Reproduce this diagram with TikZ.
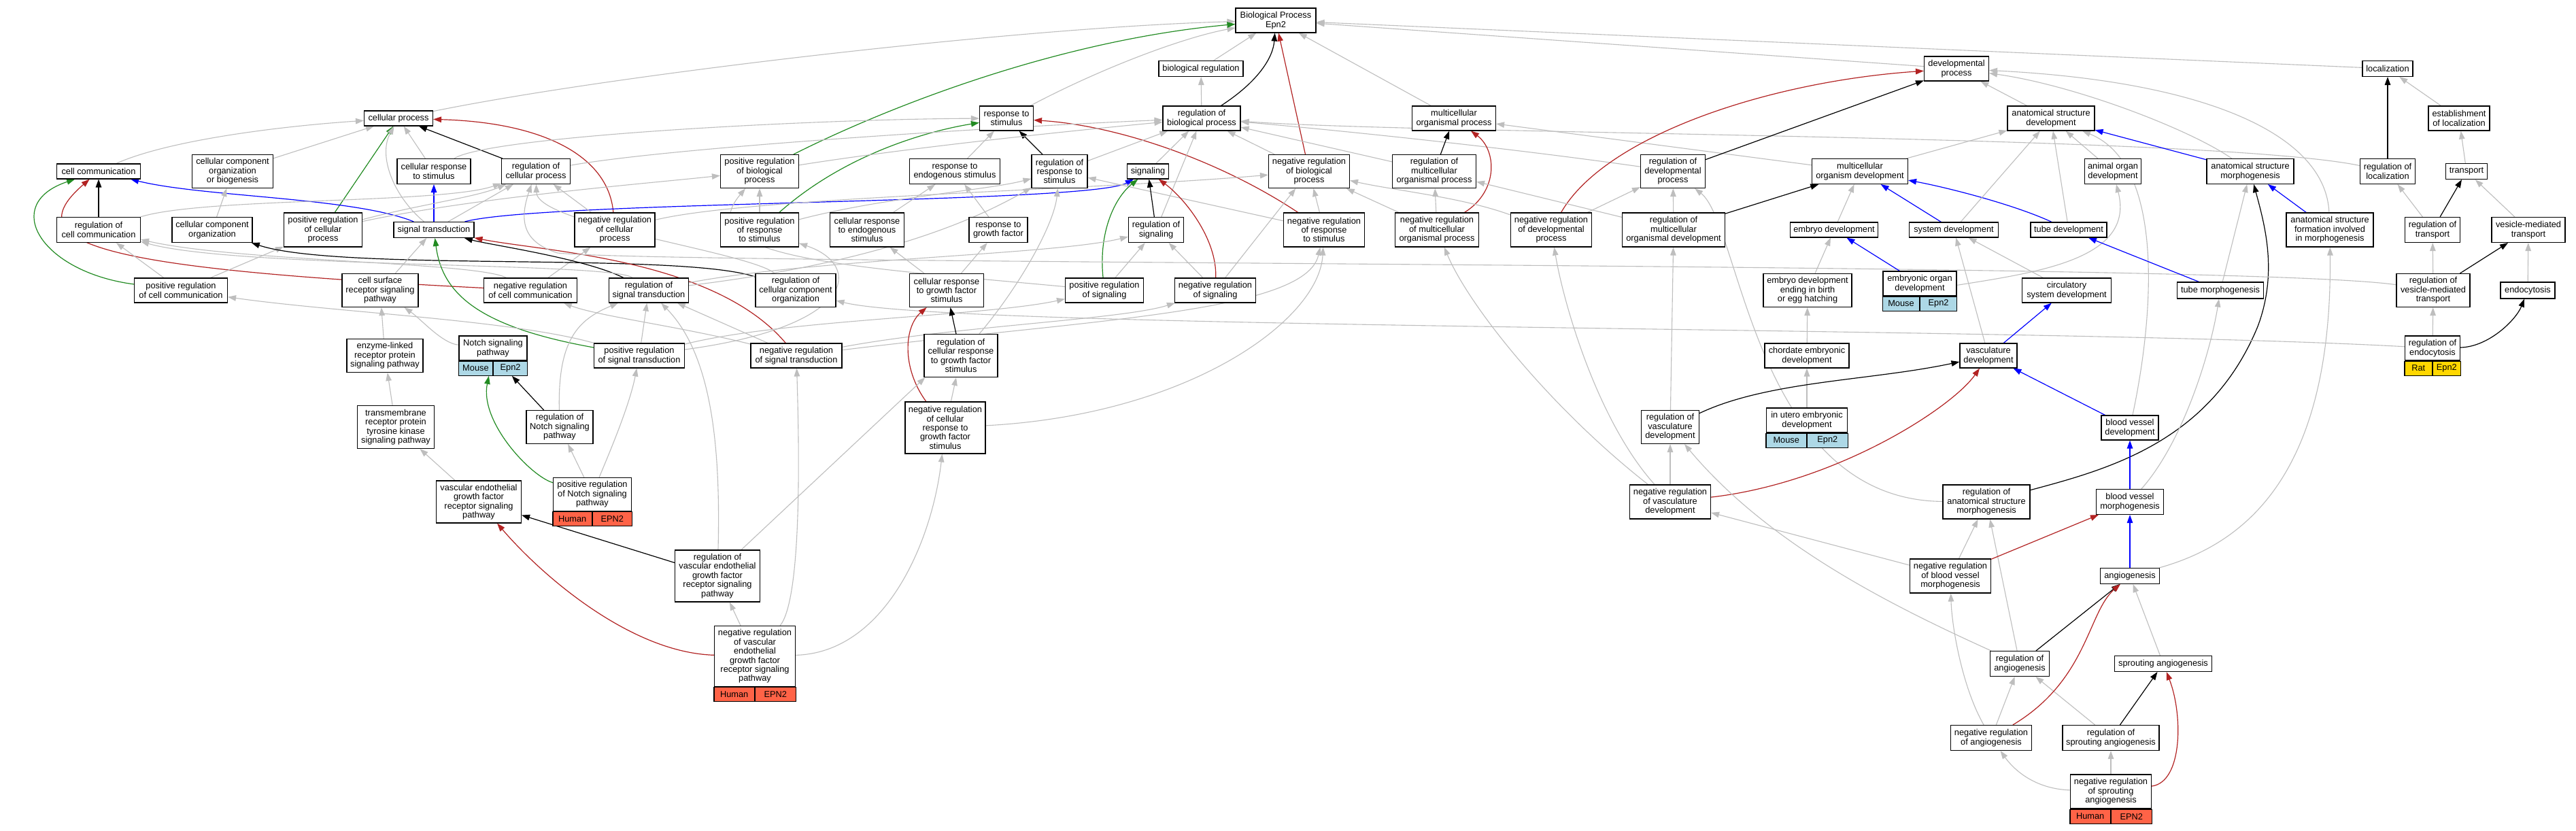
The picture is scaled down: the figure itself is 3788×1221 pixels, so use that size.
\documentclass[tikz,border=0pt]{standalone}
\usepackage{fontspec}
\setmainfont{Liberation Sans}
\usetikzlibrary{arrows.meta,fit}
\definecolor{egray}{RGB}{190,190,190}
\definecolor{egreen}{RGB}{34,139,34}
\definecolor{ered}{RGB}{178,34,34}
\definecolor{eblue}{RGB}{0,0,255}
\definecolor{spblue}{RGB}{173,216,230}
\definecolor{sptomato}{RGB}{255,99,71}
\definecolor{spgold}{RGB}{255,215,0}
\newcommand{\gofont}{\fontsize{12.8}{13.4}\selectfont}
\pgfdeclarelayer{bg}
\pgfsetlayers{bg,main}
\tikzset{
  gobx/.style={draw=black, line width=1.1pt, fill=white, align=center, inner sep=1pt, font=\gofont},
  spc/.style={draw=black, line width=1.1pt, minimum height=21, inner sep=1pt, font=\gofont},
  tipx/.style={-{Triangle[length=12pt,width=8.5pt]}},
  eis/.style={tipx, draw=egray, line width=1.1pt},
  ereg/.style={tipx, draw=black, line width=1.2pt},
  epart/.style={tipx, draw=eblue, line width=1.2pt},
  epos/.style={tipx, draw=egreen, line width=1.2pt},
  eneg/.style={tipx, draw=ered, line width=1.2pt},
}
\newcommand{\gobox}[6]{\node[gobx,minimum width=#4,minimum height=#5] (#1) at (#2,#3) {#6};}
\newcommand{\gorec}[9]{%
  \node[gobx,minimum width=#4,minimum height=#5] (#1T) at (#2,#3) {#6};
  \node[spc,fill=#9,minimum width=#4/2,anchor=north east] (#1A) at (#1T.south) {#7};
  \node[spc,fill=#9,minimum width=#4/2,anchor=north west] (#1B) at (#1T.south) {#8};
  \node[fit=(#1T)(#1A)(#1B),inner sep=0pt] (#1) {};}
\begin{document}
\begin{tikzpicture}[x=1pt,y=-1pt]
\useasboundingbox (0,0) rectangle (3788,1221);
% ---------- nodes ----------
\gobox{bp}{1876}{30}{118}{36}{Biological Process\\Epn2}
\gobox{bioreg}{1766}{101}{124}{23}{biological regulation}
\gobox{loc}{3511}{101}{74}{23}{localization}
\gobox{devp}{2877}{101}{95}{36}{developmental\\process}
\gobox{cp}{586}{174}{101}{22}{cellular process}
\gobox{rs}{1480}{174}{79}{36}{response to\\stimulus}
\gobox{rbp}{1767}{174}{114}{36}{regulation of\\biological process}
\gobox{mop}{2138}{174}{123}{36}{multicellular\\organismal process}
\gobox{asd}{3016}{174}{128}{36}{anatomical structure\\development}
\gobox{eol}{3616}{174}{90}{36}{establishment\\of localization}
\gobox{cc}{145}{252}{123}{22}{cell communication}
\gobox{ccob}{342}{252}{119}{49}{cellular component\\organization\\or biogenesis}
\gobox{crs}{638}{252}{108}{37}{cellular response\\to stimulus}
\gobox{rcp}{788}{252}{101}{37}{regulation of\\cellular process}
\gobox{prbp}{1117}{252}{115}{49}{positive regulation\\of biological\\process}
\gobox{res}{1404}{252}{133}{37}{response to\\endogenous stimulus}
\gobox{rrs}{1558}{252}{82}{49}{regulation of\\response to\\stimulus}
\gobox{sig}{1688}{252}{61}{22}{signaling}
\gobox{nrbp}{1925}{252}{119}{49}{negative regulation\\of biological\\process}
\gobox{rmop}{2109}{252}{123}{49}{regulation of\\multicellular\\organismal process}
\gobox{rdp}{2460}{252}{95}{49}{regulation of\\developmental\\process}
\gobox{mod}{2735}{252}{141}{37}{multicellular\\organism development}
\gobox{aod}{3107}{252}{83}{37}{animal organ\\development}
\gobox{asm}{3309}{252}{128}{37}{anatomical structure\\morphogenesis}
\gobox{rl}{3511}{252}{81}{37}{regulation of\\localization}
\gobox{transport}{3627}{252}{61}{23}{transport}
\gobox{rcc}{145}{338}{123}{37}{regulation of\\cell communication}
\gobox{cco}{312}{338}{118}{37}{cellular component\\organization}
\gobox{prcp}{475}{338}{115}{50}{positive regulation\\of cellular\\process}
\gobox{st}{638}{338}{118}{23}{signal transduction}
\gobox{nrcp}{904}{338}{118}{50}{negative regulation\\of cellular\\process}
\gobox{prrs}{1117}{338}{115}{50}{positive regulation\\of response\\to stimulus}
\gobox{cres}{1275}{338}{109}{50}{cellular response\\to endogenous\\stimulus}
\gobox{rgf}{1468}{338}{86}{37}{response to\\growth factor}
\gobox{ros}{1700}{338}{81}{37}{regulation of\\signaling}
\gobox{nrrs}{1947}{338}{119}{50}{negative regulation\\of response\\to stimulus}
\gobox{nrmop}{2113}{338}{123}{50}{negative regulation\\of multicellular\\organismal process}
\gobox{nrdp}{2281}{338}{119}{50}{negative regulation\\of developmental\\process}
\gobox{rmod}{2461}{338}{151}{50}{regulation of\\multicellular\\organismal development}
\gobox{ed}{2697}{338}{129}{22}{embryo development}
\gobox{sd}{2873}{338}{131}{22}{system development}
\gobox{td}{3042}{338}{112}{22}{tube development}
\gobox{asfim}{3426}{338}{128}{50}{anatomical structure\\formation involved\\in morphogenesis}
\gobox{rt}{3577}{338}{81}{37}{regulation of\\transport}
\gobox{vmt}{3718}{338}{108}{37}{vesicle-mediated\\transport}
\gobox{prcc}{266}{427}{137}{36}{positive regulation\\of cell communication}
\gobox{csrsp}{559}{427}{112}{49}{cell surface\\receptor signaling\\pathway}
\gobox{nrcc}{780}{427}{137}{36}{negative regulation\\of cell communication}
\gobox{rst}{954}{427}{117}{36}{regulation of\\signal transduction}
\gobox{rcco}{1170}{427}{118}{49}{regulation of\\cellular component\\organization}
\gobox{crgfs}{1392}{427}{109}{49}{cellular response\\to growth factor\\stimulus}
\gobox{pros}{1624}{427}{115}{36}{positive regulation\\of signaling}
\gobox{nros}{1787}{427}{119}{36}{negative regulation\\of signaling}
\gobox{edebeh}{2658}{427}{130}{49}{embryo development\\ending in birth\\or egg hatching}
\gorec{eod}{2823}{417}{108}{36}{embryonic organ\\development}{Mouse}{Epn2}{spblue}
\gobox{csd}{3039}{427}{131}{36}{circulatory\\system development}
\gobox{tm}{3265}{427}{127}{24}{tube morphogenesis}
\gobox{rvmt}{3578}{427}{108}{49}{regulation of\\vesicle-mediated\\transport}
\gobox{endo}{3717}{427}{80}{24}{endocytosis}
\gobox{elrpsp}{566}{523}{112}{49}{enzyme-linked\\receptor protein\\signaling pathway}
\gorec{nsp}{725}{512}{100}{36}{Notch signaling\\pathway}{Mouse}{Epn2}{spblue}
\gobox{prst}{940}{523}{133}{36}{positive regulation\\of signal transduction}
\gobox{nrst}{1171}{523}{134}{36}{negative regulation\\of signal transduction}
\gobox{rcrgfs}{1413}{523}{108}{63}{regulation of\\cellular response\\to growth factor\\stimulus}
\gobox{ced}{2657}{523}{124}{36}{chordate embryonic\\development}
\gobox{vd}{2924}{523}{84}{36}{vasculature\\development}
\gorec{re}{3577}{512}{81}{36}{regulation of\\endocytosis}{Rat}{Epn2}{spgold}
\gobox{trptk}{582}{628}{113}{63}{transmembrane\\receptor protein\\tyrosine kinase\\signaling pathway}
\gobox{rnsp}{823}{628}{98}{49}{regulation of\\Notch signaling\\pathway}
\gobox{nrcrgfs}{1390}{629}{118}{76}{negative regulation\\of cellular\\response to\\growth factor\\stimulus}
\gorec{iued}{2657}{618}{119}{36}{in utero embryonic\\development}{Mouse}{Epn2}{spblue}
\gobox{rvd}{2456}{628}{85}{49}{regulation of\\vasculature\\development}
\gobox{bvd}{3132}{629}{84}{36}{blood vessel\\development}
\gobox{vegf}{704}{738}{125}{62}{vascular endothelial\\growth factor\\receptor signaling\\pathway}
\gorec{prnsp}{871}{727}{115}{49}{positive regulation\\of Notch signaling\\pathway}{Human}{EPN2}{sptomato}
\gobox{nrvd}{2456}{738}{119}{50}{negative regulation\\of vasculature\\development}
\gobox{rasm}{2921}{738}{128}{50}{regulation of\\anatomical structure\\morphogenesis}
\gobox{bvm}{3132}{738}{99}{37}{blood vessel\\morphogenesis}
\gobox{rvegf}{1055}{847}{125}{76}{regulation of\\vascular endothelial\\growth factor\\receptor signaling\\pathway}
\gobox{nrbvm}{2868}{847}{119}{50}{negative regulation\\of blood vessel\\morphogenesis}
\gobox{ang}{3132}{847}{87}{23}{angiogenesis}
\gorec{nrvegf}{1110}{965}{119}{89}{negative regulation\\of vascular\\endothelial\\growth factor\\receptor signaling\\pathway}{Human}{EPN2}{sptomato}
\gobox{ra}{2970}{976}{87}{37}{regulation of\\angiogenesis}
\gobox{sa}{3181}{976}{143}{23}{sprouting angiogenesis}
\gobox{nra}{2928}{1085}{119}{37}{negative regulation\\of angiogenesis}
\gobox{rsa}{3104}{1085}{142}{37}{regulation of\\sprouting angiogenesis}
\gorec{nrsa}{3104}{1164}{119}{50}{negative regulation\\of sprouting\\angiogenesis}{Human}{EPN2}{sptomato}
% ---------- edges ----------
\begin{pgfonlayer}{bg}
\fill[white] (0,0) rectangle (3788,1221);
% top
\draw[eis] (bioreg) -- (bp);
\draw[eis] (loc) -- (bp);
\draw[eis] (devp) -- (bp);
\draw[eis] (cp) .. controls (900,110) and (1500,40) .. (bp);
\draw[eis] (rs) .. controls (1620,100) and (1740,55) .. (bp);
\draw[ereg] (rbp) .. controls (1850,120) and (1872,85) .. (bp);
\draw[eis] (rbp) -- (bioreg);
\draw[eis] (mop) -- (bp);
\draw[epos] (prbp) .. controls (1300,160) and (1550,60) .. (bp);
\draw[eneg] (nrbp) -- (bp);
% cellular process
\draw[eis] (cc) .. controls (250,205) and (420,185) .. (cp);
\draw[eis] (ccob) -- (cp);
\draw[eis] (crs) -- (cp);
\draw[ereg] (rcp) -- (cp);
\draw[epos] (prcp) -- (cp);
\draw[eneg] (nrcp) .. controls (895,230) and (800,180) .. (cp);
\draw[eis] (st) .. controls (580,290) and (555,230) .. (cp);
% response to stimulus
\draw[eis] (crs) .. controls (720,200) and (1200,175) .. (rs);
\draw[eis] (res) -- (rs);
\draw[ereg] (rrs) -- (rs);
\draw[epos] (prrs) .. controls (1250,220) and (1380,190) .. (rs);
\draw[eneg] (nrrs) .. controls (1800,240) and (1650,185) .. (rs);
% regulation of biological process
\draw[eis] (rcp) .. controls (1000,215) and (1500,185) .. (rbp);
\draw[eis] (prbp) .. controls (1350,215) and (1600,190) .. (rbp);
\draw[eis] (rrs) -- (rbp);
\draw[eis] (nrbp) -- (rbp);
\draw[eis] (sig) -- (rbp);
\draw[eis] (ros) -- (rbp);
\draw[eis] (rmop) -- (rbp);
\draw[eis] (rdp) .. controls (2200,215) and (1950,190) .. (rbp);
\draw[eis] (rl) .. controls (3250,198) and (2100,198) .. (rbp);
% multicellular organismal process
\draw[ereg] (rmop) -- (mop);
\draw[eneg] (nrmop) .. controls (2205,280) and (2200,220) .. (mop);
\draw[eis] (mod) -- (mop);
% developmental process
\draw[ereg] (rdp) -- (devp);
\draw[eneg] (nrdp) .. controls (2360,200) and (2600,120) .. (devp);
\draw[eis] (asd) -- (devp);
\draw[eis] (asm) .. controls (3220,190) and (3050,125) .. (devp);
\draw[eis] (asfim) .. controls (3420,200) and (3250,120) .. (devp);
% localization
\draw[ereg] (rl) -- (loc);
\draw[eis] (eol) -- (loc);
\draw[eis] (transport) -- (eol);
\draw[eis] (rt) -- (rl);
\draw[ereg] (rt) -- (transport);
\draw[eis] (vmt) -- (transport);
\draw[eis] (rvmt) -- (rt);
\draw[ereg] (rvmt) -- (vmt);
\draw[eis] (endo) -- (vmt);
\draw[eis] (reT) -- (rvmt);
\draw[ereg] (reT) .. controls (3660,510) and (3700,470) .. (endo);
% cell communication area
\draw[ereg] (rcc) -- (cc);
\draw[epart] (st) .. controls (520,290) and (300,290) .. (cc);
\draw[epart] (st) -- (crs);
\draw[epart] (st) .. controls (800,295) and (1600,300) .. (sig);
\draw[eneg] (nrcc) .. controls (150,395) and (20,360) .. (cc);
\draw[epos] (prcc) .. controls (60,400) and (0,300) .. (cc);
\draw[eis] (cco) -- (ccob);
\draw[eis] (prcc) -- (prcp);
\draw[eis] (prcc) -- (rcc);
\draw[eis] (nrcc) .. controls (700,385) and (350,385) .. (rcc);
\draw[eis] (nrcc) -- (nrcp);
\draw[ereg] (rcco) .. controls (1000,370) and (500,400) .. (cco);
\draw[eis] (rcco) .. controls (1100,370) and (790,330) .. (rcp);
\draw[eis] (prcp) .. controls (620,300) and (700,290) .. (rcp);
\draw[eis] (prcp) .. controls (700,290) and (950,270) .. (prbp);
\draw[eis] (rcc) .. controls (300,290) and (650,300) .. (rcp);
\draw[eis] (st) -- (rcp);
\draw[eis] (nrcp) -- (rcp);
\draw[eis] (nrcp) .. controls (1100,290) and (1600,280) .. (nrbp);
\draw[eis] (csrsp) -- (st);
\draw[epos] (prst) .. controls (700,480) and (650,430) .. (st);
\draw[ereg] (rst) .. controls (860,380) and (720,360) .. (st);
\draw[eneg] (nrst) .. controls (1050,380) and (800,370) .. (st);
\draw[eis] (prrs) -- (prbp);
\draw[eis] (pros) .. controls (1250,392) and (1010,380) .. (prbp);
\draw[eis] (cres) -- (res);
\draw[eis] (rgf) -- (res);
\draw[eis] (prrs) .. controls (1300,290) and (1450,280) .. (rrs);
\draw[eis] (rcrgfs) .. controls (1500,420) and (1550,330) .. (rrs);
\draw[eis] (nrrs) -- (rrs);
\draw[eis] (rst) .. controls (1300,385) and (1440,320) .. (rrs);
\draw[epos] (pros) .. controls (1615,340) and (1640,290) .. (sig);
\draw[ereg] (ros) -- (sig);
\draw[eneg] (nros) .. controls (1790,350) and (1740,290) .. (sig);
\draw[eis] (pros) -- (ros);
\draw[eis] (nros) -- (ros);
\draw[eis] (rst) .. controls (1200,380) and (1550,375) .. (ros);
\draw[eis] (nros) -- (nrbp);
\draw[eis] (nrrs) -- (nrbp);
\draw[eis] (nrmop) -- (nrbp);
\draw[eis] (nrdp) .. controls (2150,290) and (2050,280) .. (nrbp);
\draw[eis] (crgfs) -- (rgf);
\draw[eis] (crgfs) -- (cres);
\draw[eis] (prst) .. controls (1260,480) and (1270,390) .. (prrs);
\draw[eis] (rmod) -- (rmop);
\draw[eis] (nrmop) -- (rmop);
\draw[eis] (nrdp) -- (rdp);
\draw[eis] (rmod) -- (rdp);
\draw[eis] (rasm) .. controls (2580,735) and (2560,330) .. (rdp);
\draw[ereg] (rmod) -- (mod);
\draw[eis] (ed) -- (mod);
\draw[epart] (sd) -- (mod);
\draw[epart] (td) .. controls (2960,300) and (2860,275) .. (mod);
\draw[eis] (mod) -- (asd);
\draw[eis] (sd) -- (asd);
\draw[eis] (td) -- (asd);
\draw[eis] (aod) -- (asd);
\draw[epart] (asm) -- (asd);
\draw[eis] (bvd) .. controls (3170,450) and (3180,240) .. (asd);
\draw[epart] (asfim) -- (asm);
\draw[eis] (tm) -- (asm);
\draw[ereg] (rasm) .. controls (3100,690) and (3250,650) .. (3320,480) .. controls (3350,400) and (3330,330) .. (asm);
\draw[eis] (rvmt) .. controls (3300,385) and (1000,390) .. (820,372) .. controls (765,355) and (765,320) .. (rcp);
\draw[eis] (reT) .. controls (3000,480) and (1400,485) .. (rcco);
\draw[eis] (rst) .. controls (900,385) and (350,395) .. (rcc);
% signalling pathways
\draw[eis] (nrst) -- (rst);
\draw[eis] (rvegf) .. controls (1060,650) and (1045,520) .. (rst);
\draw[eis] (rnsp) .. controls (820,500) and (850,470) .. (rst);
\draw[eis] (prst) -- (rst);
\draw[eis] (prst) .. controls (750,470) and (500,460) .. (prcc);
\draw[eis] (nrst) .. controls (1000,480) and (880,465) .. (nrcc);
\draw[eis] (nrst) .. controls (1600,470) and (1920,460) .. (nrrs);
\draw[eis] (nrst) .. controls (1400,480) and (1650,470) .. (nros);
\draw[eis] (prst) .. controls (1150,470) and (1450,465) .. (pros);
\draw[ereg] (rcrgfs) -- (crgfs);
\draw[eneg] (nrcrgfs) .. controls (1325,540) and (1330,480) .. (crgfs);
\draw[eis] (nrcrgfs) -- (rcrgfs);
\draw[eis] (nrcrgfs) .. controls (1750,610) and (1940,470) .. (nrrs);
\draw[eis] (nspT) .. controls (650,505) and (620,470) .. (csrsp);
\draw[eis] (elrpsp) -- (csrsp);
\draw[eis] (trptk) -- (elrpsp);
\draw[eis] (vegf) -- (trptk);
\draw[ereg] (rnsp) -- (nsp);
\draw[epos] (prnspT) .. controls (780,700) and (705,620) .. (nsp);
\draw[eis] (prnspT) -- (rnsp);
\draw[eis] (prnspT) .. controls (890,680) and (925,600) .. (prst);
\draw[ereg] (rvegf) -- (vegf);
\draw[eneg] (nrvegfT) .. controls (930,960) and (800,850) .. (vegf);
\draw[eis] (nrvegfT) -- (rvegf);
\draw[eis] ([xshift=-28pt]rvegf.north east) -- ([xshift=2pt]rcrgfs.south west);
\draw[eis] (nrvegfT) .. controls (1300,960) and (1370,800) .. (nrcrgfs);
\draw[eis] (nrvegfT) .. controls (1180,880) and (1175,650) .. (nrst);
% development
\draw[eis] (edebeh) -- (ed);
\draw[epart] (eodT) -- (ed);
\draw[eis] (ced) -- (edebeh);
\draw[eis] (iuedT) -- (ced);
\draw[eis] (eod) .. controls (3000,400) and (3140,380) .. (aod);
\draw[eis] (csd) -- (sd);
\draw[eis] (vd) -- (sd);
\draw[epart] (vd) -- (csd);
\draw[epart] (tm) -- (td);
\draw[eis] (bvm) .. controls (3210,650) and (3250,520) .. (tm);
\draw[epart] (bvd) -- (vd);
\draw[epart] (bvm) -- (bvd);
\draw[epart] (ang) -- (bvm);
\draw[ereg] (rvd) .. controls (2600,560) and (2750,560) .. (vd);
\draw[eneg] (nrvd) .. controls (2700,710) and (2870,600) .. (vd);
\draw[eis] (rvd) -- (rmod);
\draw[eis] (nrvd) -- (rvd);
\draw[eis] (nrvd) .. controls (2280,600) and (2160,450) .. (nrmop);
\draw[eis] (nrvd) .. controls (2350,620) and (2300,450) .. (nrdp);
\draw[eis] (ra) .. controls (2780,890) and (2600,800) .. (rvd);
\draw[eis] (nrbvm) -- (nrvd);
\draw[eis] (nrbvm) -- (rasm);
\draw[eis] (ra) -- (rasm);
\draw[eneg] (nrbvm) -- (bvm);
\draw[eis] (nra) .. controls (2885,1010) and (2870,920) .. (nrbvm);
\draw[ereg] (ra) -- (ang);
\draw[eis] (nra) -- (ra);
\draw[eis] (rsa) -- (ra);
\draw[eneg] (nra) .. controls (3070,1000) and (3070,900) .. (ang);
\draw[ereg] (rsa) -- (sa);
\draw[eis] (sa) -- (ang);
\draw[eis] (nrsaT) -- (rsa);
\draw[eis] (nrsaT) .. controls (2990,1160) and (2960,1130) .. (nra);
\draw[eneg] (nrsaT) .. controls (3210,1150) and (3210,1050) .. (sa);
\draw[eis] (ang) .. controls (3300,800) and (3430,700) .. (asfim);
\end{pgfonlayer}
\end{tikzpicture}
\end{document}
